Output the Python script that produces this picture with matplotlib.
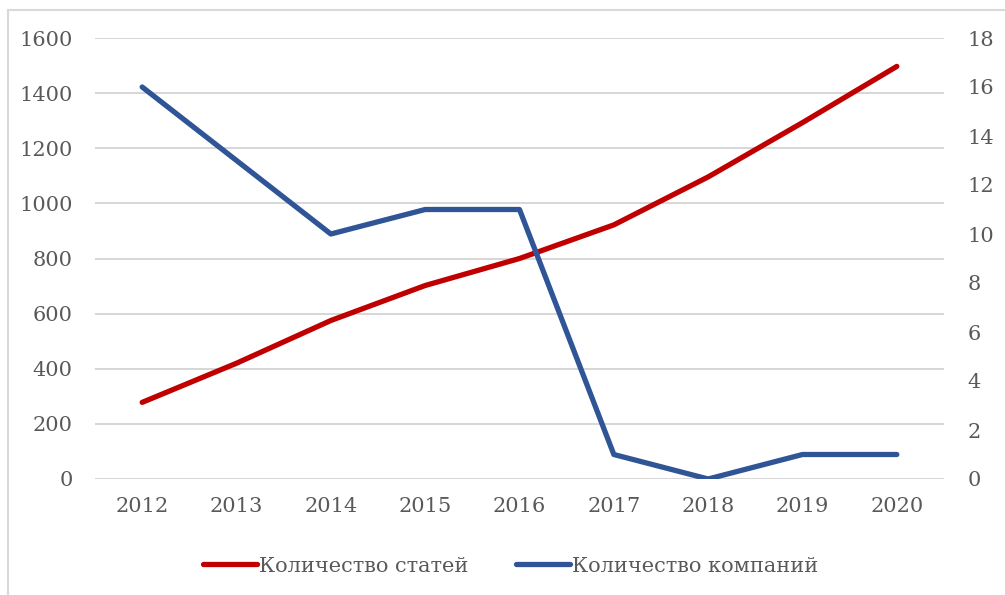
import matplotlib.pyplot as plt
from matplotlib.patches import Rectangle

years = ['2012', '2013', '2014', '2015', '2016', '2017', '2018', '2019', '2020']
articles = [278, 420, 575, 702, 800, 922, 1096, 1293, 1497]
companies = [16, 13, 10, 11, 11, 1, 0, 1, 1]

red = '#C00000'
blue = '#2F5597'
txt = '#595959'

plt.rcParams['font.family'] = ['DejaVu Serif']

fig = plt.figure(figsize=(10.05, 5.95), dpi=100)
ax = fig.add_axes([95 / 1005, 1 - 479 / 595, 849 / 1005, 441 / 595])
ax2 = ax.twinx()

x = range(len(years))
l1, = ax.plot(x, articles, color=red, lw=3.8, solid_capstyle='round',
              solid_joinstyle='round', label='Количество статей', zorder=3)
l2, = ax2.plot(x, companies, color=blue, lw=3.8, solid_capstyle='round',
               solid_joinstyle='round', label='Количество компаний', zorder=3)

ax.set_xlim(-0.5, len(years) - 0.5)
ax.set_ylim(0, 1600)
ax.set_yticks(range(0, 1601, 200))
ax2.set_ylim(0, 18)
ax2.set_yticks(range(0, 19, 2))
ax.set_xticks(list(x))
ax.set_xticklabels(years)

ax.grid(axis='y', color='#D6D6D6', lw=1.4)
ax.set_axisbelow(True)
for a in (ax, ax2):
    for s in a.spines.values():
        s.set_visible(False)
    a.tick_params(length=0, labelsize=15, labelcolor=txt)
ax.tick_params(axis='y', pad=16)
ax.tick_params(axis='x', pad=13)
ax2.tick_params(axis='y', pad=17)

fig.legend([l1, l2], [l1.get_label(), l2.get_label()], loc='center',
           bbox_to_anchor=(0.508, 1 - 566 / 595), ncol=2, frameon=False,
           fontsize=15, labelcolor=txt, handlelength=2.6, handletextpad=0.1,
           columnspacing=2.3)

fig.patches.append(Rectangle((8 / 1005, -0.1), 1.2, 1 - 10 / 595 + 0.1,
                             transform=fig.transFigure, fill=False,
                             edgecolor='#D9D9D9', lw=1.5))

fig.savefig('out.png', dpi=100)
